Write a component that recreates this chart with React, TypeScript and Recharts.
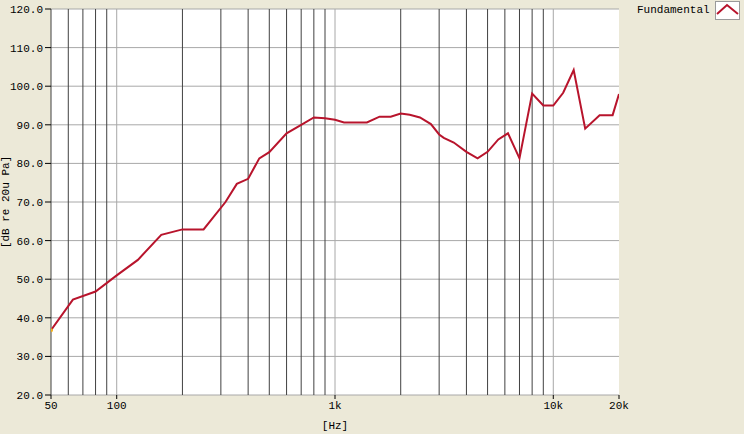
import { LineChart, Line, XAxis, YAxis, CartesianGrid, ReferenceLine } from 'recharts'

const freqs = [
  50, 63, 80, 100, 125, 160, 200, 250, 315, 355, 400, 450, 500, 600, 700, 800, 900, 1000, 1100, 1400,
  1600, 1800, 2000, 2200, 2450, 2750, 3000, 3150, 3500, 4000, 4500, 5000, 5600, 6200, 7000, 8000,
  9000, 10000, 11100, 12400, 14000, 16300, 18700, 20000,
]
const fundamental = [
  36.8, 44.7, 46.8, 51.0, 55.0, 61.5, 62.9, 62.9, 70.0, 74.7, 76.0, 81.3, 82.9, 87.8, 90.0, 91.9, 91.7,
  91.3, 90.6, 90.6, 92.1, 92.1, 92.9, 92.6, 91.9, 90.2, 87.5, 86.6, 85.4, 83.0, 81.3, 83.0, 86.2, 87.8,
  81.3, 98.1, 95.0, 95.0, 98.3, 104.2, 89.0, 92.5, 92.5, 98.0,
]
const xTicks = [50, 100, 1000, 10000, 20000]
const yTicks = [20, 30, 40, 50, 60, 70, 80, 90, 100, 110, 120]
const gridFreqs = [
  50, 60, 70, 80, 90, 100, 200, 300, 400, 500, 600, 700, 800, 900, 1000, 2000, 3000, 4000, 5000, 6000,
  7000, 8000, 9000, 10000,
]
const decades = [100, 1000, 10000]

const data = freqs.map((f, i) => ({ f, v: fundamental[i] }))

const MONO = '"Liberation Mono", "DejaVu Sans Mono", monospace'
const RED = '#b8142c'

const fmtX = (v: number) => (v >= 1000 ? `${v / 1000}k` : `${v}`)

export default function App() {
  return (
    <div style={{ position: 'absolute', left: 0, top: 0, width: 744, height: 434, background: '#ece9d8' }}>
      <LineChart width={744} height={434} data={data} margin={{ top: 9, right: 125, bottom: 0, left: 0 }}>
        <CartesianGrid vertical={false} stroke="#a8a8a8" fill="#ffffff" />
        {gridFreqs.map((f) => (
          <ReferenceLine
            key={f}
            x={f}
            stroke={decades.includes(f) ? '#a8a8a8' : '#404040'}
            strokeWidth={1}
          />
        ))}
        <XAxis
          dataKey="f"
          type="number"
          scale="log"
          domain={[50, 20000]}
          ticks={xTicks}
          tickFormatter={fmtX}
          allowDataOverflow
          axisLine={false}
          tickSize={4}
          tickLine={{ stroke: '#000' }}
          height={39}
          tick={{ fontSize: 11, fontFamily: MONO, fill: '#000' }}
          label={{
            content: ({ viewBox }: any) => (
              <text
                x={viewBox.x + viewBox.width / 2}
                y={viewBox.y + 34}
                textAnchor="middle"
                fontSize={11}
                fontFamily={MONO}
                fill="#000"
              >
                [Hz]
              </text>
            ),
          }}
        />
        <YAxis
          type="number"
          domain={[20, 120]}
          ticks={yTicks}
          tickFormatter={(v: number) => v.toFixed(1)}
          width={51}
          axisLine={false}
          tickSize={6}
          tickMargin={2}
          tickLine={{ stroke: '#000' }}
          tick={{ fontSize: 11, fontFamily: MONO, fill: '#000' }}
          label={{
            content: ({ viewBox }: any) => {
              const cx = 6
              const cy = viewBox.y + viewBox.height / 2
              return (
                <text
                  x={cx}
                  y={cy}
                  transform={`rotate(-90 ${cx} ${cy})`}
                  textAnchor="middle"
                  dominantBaseline="central"
                  fontSize={11}
                  fontFamily={MONO}
                  fill="#000"
                >
                  [dB re 20u Pa]
                </text>
              )
            },
          }}
        />
        <Line
          type="linear"
          dataKey="v"
          stroke={RED}
          strokeWidth={2}
          isAnimationActive={false}
          dot={(p: any) =>
            p.index === 0 ? (
              <circle key="start" cx={p.cx} cy={p.cy} r={2} fill="#f0b020" />
            ) : (
              <g key={p.index} />
            )
          }
          activeDot={false}
        />
      </LineChart>
      <div
        style={{
          position: 'absolute',
          left: 637,
          top: 4,
          fontFamily: MONO,
          fontSize: 11,
          color: '#000',
        }}
      >
        Fundamental
      </div>
      <svg style={{ position: 'absolute', left: 715, top: 1 }} width={25} height={19}>
        <rect x={0.5} y={0.5} width={24} height={18} fill="#fff" stroke="#9a9a9a" />
        <polyline points="2,13 12,4 23,13" fill="none" stroke={RED} strokeWidth={2} />
      </svg>
    </div>
  )
}
